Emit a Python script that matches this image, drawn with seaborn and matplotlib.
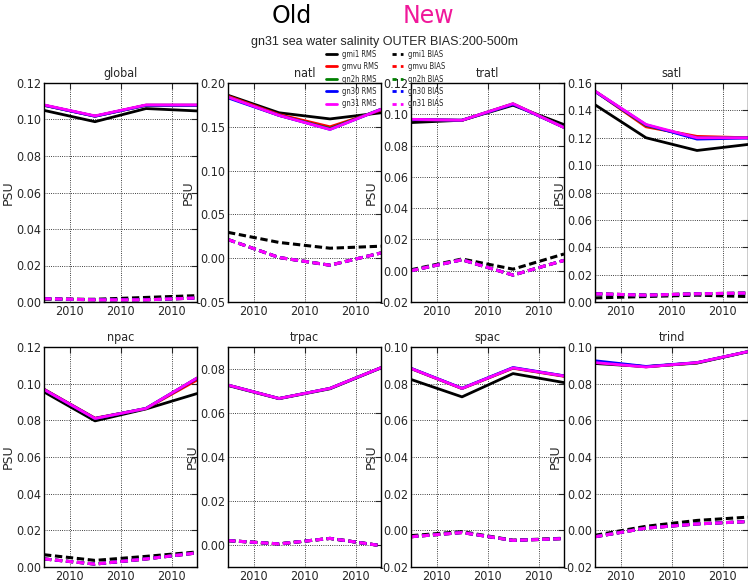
import matplotlib
matplotlib.use("Agg")
import matplotlib.pyplot as plt
import seaborn as sns
import numpy as np
import pandas as pd
from matplotlib.lines import Line2D
from matplotlib import font_manager as fm

# ---------------- data ----------------
regions = ["global", "natl", "tratl", "satl", "npac", "trpac", "spac", "trind"]
times = [0, 1, 2, 3]
tick_pos = [0.5, 1.5, 2.5]
tick_labels = ["2010", "2010", "2010"]
models = ["gmi1", "gmvu", "gn2h", "gn30", "gn31"]
colors = ["black", "red", "green", "blue", "magenta"]

ylims = [(0, 0.12), (-0.05, 0.20), (-0.02, 0.12), (0, 0.16),
         (0, 0.12), (-0.01, 0.09), (-0.02, 0.10), (-0.02, 0.10)]
ysteps = [0.02, 0.05, 0.02, 0.02, 0.02, 0.02, 0.02, 0.02]

rms_gmi1 = [[0.105, 0.0988, 0.106, 0.1047],
            [0.186, 0.166, 0.159, 0.166],
            [0.0947, 0.0962, 0.1058, 0.0934],
            [0.1441, 0.120, 0.1107, 0.1151],
            [0.0955, 0.0797, 0.0862, 0.0946],
            [0.0725, 0.0665, 0.0710, 0.0805],
            [0.0823, 0.0728, 0.0855, 0.0806],
            [0.0910, 0.0893, 0.0912, 0.0974]]
rms_gmvu = [[0.1078, 0.1018, 0.1078, 0.1078],
            [0.185, 0.164, 0.150, 0.169],
            [0.0966, 0.0961, 0.1066, 0.0917],
            [0.1540, 0.128, 0.121, 0.1200],
            [0.0970, 0.0812, 0.0864, 0.1020],
            [0.0727, 0.0666, 0.0712, 0.0806],
            [0.0882, 0.0773, 0.0884, 0.0840],
            [0.0918, 0.0892, 0.0914, 0.0975]]
rms_gn2h = [[0.1078, 0.1018, 0.1078, 0.1078],
            [0.184, 0.163, 0.148, 0.170],
            [0.0967, 0.0962, 0.1067, 0.0916],
            [0.1540, 0.129, 0.120, 0.1200],
            [0.0968, 0.0810, 0.0865, 0.1030],
            [0.0727, 0.0666, 0.0712, 0.0806],
            [0.0883, 0.0774, 0.0886, 0.0842],
            [0.0920, 0.0892, 0.0914, 0.0975]]
rms_gn30 = [[0.1078, 0.1018, 0.1078, 0.1078],
            [0.183, 0.163, 0.147, 0.170],
            [0.0966, 0.0962, 0.1064, 0.0916],
            [0.1538, 0.1295, 0.119, 0.1198],
            [0.0968, 0.0810, 0.0865, 0.1030],
            [0.0727, 0.0666, 0.0712, 0.0806],
            [0.0884, 0.0775, 0.0888, 0.0843],
            [0.0925, 0.0894, 0.0915, 0.0975]]
rms_gn31 = [[0.108, 0.102, 0.108, 0.108],
            [0.184, 0.163, 0.147, 0.170],
            [0.0968, 0.0962, 0.1068, 0.0915],
            [0.1541, 0.1297, 0.120, 0.120],
            [0.0968, 0.0810, 0.0865, 0.1031],
            [0.0727, 0.0666, 0.0712, 0.0806],
            [0.0883, 0.0774, 0.0886, 0.0842],
            [0.0915, 0.0891, 0.0915, 0.0975]]

bias_gmi1 = [[0.0015, 0.0015, 0.0025, 0.0035],
             [0.0295, 0.018, 0.0114, 0.0137],
             [0.0006, 0.0075, 0.0010, 0.0107],
             [0.0030, 0.0040, 0.0050, 0.0040],
             [0.0067, 0.0036, 0.0058, 0.0082],
             [0.0020, 0.0005, 0.0030, -0.0003],
             [-0.0029, -0.0007, -0.0054, -0.0043],
             [-0.0027, 0.0022, 0.0054, 0.0072]]
bias_gmvu = [[0.0018, 0.0012, 0.0012, 0.0022],
             [0.0213, 0.0008, -0.0080, 0.0060],
             [0.0000, 0.0070, -0.0028, 0.0066],
             [0.0060, 0.0050, 0.0060, 0.0065],
             [0.0044, 0.0016, 0.0044, 0.0077],
             [0.0020, 0.0005, 0.0030, -0.0003],
             [-0.0035, -0.0012, -0.0055, -0.0045],
             [-0.0035, 0.0012, 0.0035, 0.0048]]
bias_gn2h = [[0.0018, 0.0012, 0.0012, 0.0022],
             [0.0213, 0.0008, -0.0080, 0.0060],
             [0.0000, 0.0070, -0.0028, 0.0066],
             [0.0060, 0.0050, 0.0060, 0.0065],
             [0.0044, 0.0016, 0.0044, 0.0077],
             [0.0020, 0.0005, 0.0030, -0.0003],
             [-0.0035, -0.0012, -0.0055, -0.0045],
             [-0.0035, 0.0012, 0.0035, 0.0048]]
bias_gn30 = [[0.0018, 0.0012, 0.0012, 0.0022],
             [0.0213, 0.0008, -0.0080, 0.0060],
             [0.0000, 0.0070, -0.0028, 0.0066],
             [0.0060, 0.0050, 0.0060, 0.0065],
             [0.0044, 0.0016, 0.0044, 0.0077],
             [0.0020, 0.0005, 0.0030, -0.0003],
             [-0.0035, -0.0012, -0.0055, -0.0045],
             [-0.0035, 0.0012, 0.0035, 0.0048]]
bias_gn31 = [[0.0018, 0.0012, 0.0012, 0.0022],
             [0.0213, 0.0008, -0.0080, 0.0060],
             [0.0000, 0.0070, -0.0028, 0.0066],
             [0.0060, 0.0050, 0.0060, 0.0065],
             [0.0044, 0.0016, 0.0044, 0.0077],
             [0.0020, 0.0005, 0.0030, -0.0003],
             [-0.0035, -0.0012, -0.0055, -0.0045],
             [-0.0035, 0.0012, 0.0035, 0.0048]]

rms_all = [rms_gmi1, rms_gmvu, rms_gn2h, rms_gn30, rms_gn31]
bias_all = [bias_gmi1, bias_gmvu, bias_gn2h, bias_gn30, bias_gn31]

# ---------------- style ----------------
sns.set_style("white")
plt.rcParams.update({
    "font.family": ["DejaVu Sans"],
    "xtick.direction": "in", "ytick.direction": "in",
    "xtick.top": True, "ytick.right": True,
    "xtick.major.size": 4, "ytick.major.size": 4,
    "axes.edgecolor": "black", "axes.linewidth": 1.0,
})

# condensed font for tick labels / panel titles, if one is installed
_fonts = fm.fontManager.ttflist
_cond = [f for f in _fonts if f.name == "DejaVu Sans" and f.stretch == "condensed"
         and f.weight in (400, "normal") and f.style == "normal"]
if _cond:
    narrow_fp = fm.FontProperties(fname=_cond[0].fname)
    tick_fs = 9.0
elif any(f.name == "Liberation Sans Narrow" for f in _fonts):
    narrow_fp = fm.FontProperties(family="Liberation Sans Narrow")
    tick_fs = 9.5
else:
    narrow_fp = fm.FontProperties(family="Liberation Sans")
    tick_fs = 8.5

fig = plt.figure(figsize=(7.48, 5.82), dpi=100)
W, H = 748.0, 582.0
col_x = [44, 228, 411, 595]
row_y = [(83, 302), (347, 567)]
ax_w = 153

bias_dash = (0, (2.4, 1.2))

for i, reg in enumerate(regions):
    r, c = divmod(i, 4)
    top, bot = row_y[r]
    ax = fig.add_axes([col_x[c] / W, 1 - bot / H, ax_w / W, (bot - top) / H])
    for m, col, rms, bias in zip(models, colors, rms_all, bias_all):
        df = pd.DataFrame({"time": times, "rms": rms[i], "bias": bias[i]})
        sns.lineplot(data=df, x="time", y="rms", ax=ax, color=col, lw=2.0)
        sns.lineplot(data=df, x="time", y="bias", ax=ax, color=col, lw=2.2,
                     linestyle=bias_dash)
    ax.set_xlim(times[0], times[-1])
    lo, hi = ylims[i]
    step = ysteps[i]
    ax.set_ylim(lo, hi)
    k0 = int(np.ceil(lo / step - 1e-9))
    k1 = int(np.floor(hi / step + 1e-9))
    ax.set_yticks([k * step for k in range(k0, k1 + 1)])
    ax.yaxis.set_major_formatter(matplotlib.ticker.FormatStrFormatter("%.2f"))
    ax.set_xticks(tick_pos)
    ax.set_xticklabels(tick_labels)
    for lab in ax.get_xticklabels() + ax.get_yticklabels():
        lab.set_fontproperties(narrow_fp)
        lab.set_fontsize(tick_fs)
    ax.tick_params(axis="both", pad=2)
    ax.grid(True, color="black", linestyle=":", linewidth=0.6)
    ax.set_xlabel("")
    ax.set_ylabel("PSU", fontsize=9, labelpad=1)
    t = ax.set_title(reg, pad=4)
    t.set_fontproperties(narrow_fp)
    t.set_fontsize(tick_fs)
    for s in ax.spines.values():
        s.set_visible(True)
        s.set_color("black")

fig.text(292 / W, 1 - 16 / H, "Old", fontsize=17, ha="center", va="center", color="black")
fig.text(428 / W, 1 - 16 / H, "New", fontsize=17, ha="center", va="center", color="#F0189A")
fig.text(385 / W, 1 - 42 / H, "gn31 sea water salinity OUTER BIAS:200-500m",
         fontsize=9, ha="center", va="center", family=["Liberation Sans", "DejaVu Sans"])

handles, labels = [], []
for m, col in zip(models, colors):
    handles.append(Line2D([], [], color=col, lw=2.0))
    labels.append(m + " RMS")
for m, col in zip(models, colors):
    handles.append(Line2D([], [], color=col, lw=2.0, linestyle=(0, (1.5, 1.5))))
    labels.append(m + " BIAS")
leg_fp = fm.FontProperties(fname=narrow_fp.get_file()) if narrow_fp.get_file() else narrow_fp.copy()
leg_fp.set_size(5.5)
fig.legend(handles, labels, ncol=2, loc="center", bbox_to_anchor=(386 / W, 1 - 79 / H),
           frameon=False, prop=leg_fp, handlelength=1.4, columnspacing=1.8,
           labelspacing=0.45, handletextpad=0.7)

fig.savefig("out.png", dpi=100, facecolor="white")
